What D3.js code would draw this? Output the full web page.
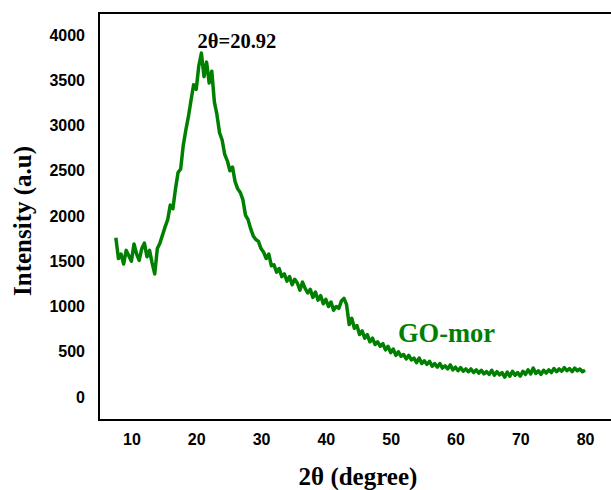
<!DOCTYPE html>
<html>
<head>
<meta charset="utf-8">
<script src="https://cdn.jsdelivr.net/npm/d3@7"></script>
<style>
  body { margin: 0; background: #fff; }
  .tick text { font-family: 'Liberation Sans', Arial, sans-serif; font-weight: bold; font-size: 16px; fill: #000; }
  .title { font-family: 'Liberation Serif', 'Times New Roman', serif; font-weight: bold; }
</style>
</head>
<body>
<div id="chart"></div>
<script>
const xTicks = [10, 20, 30, 40, 50, 60, 70, 80];
const yTicks = [0, 500, 1000, 1500, 2000, 2500, 3000, 3500, 4000];

// 2theta (degree)
const angles = [
  7.6, 8.0, 8.4, 8.8, 9.2, 9.6, 10.0, 10.4, 10.8, 11.2, 11.6, 12.0, 12.4, 12.8, 13.2, 13.6,
  14.0, 14.4, 14.8, 15.2, 15.6, 16.0, 16.4, 16.8, 17.2, 17.6, 18.0, 18.4, 18.8, 19.2, 19.6,
  20.0, 20.4, 20.8, 21.2, 21.6, 22.0, 22.4, 22.8, 23.2, 23.6, 24.0, 24.4, 24.8, 25.2, 25.6,
  26.0, 26.4, 26.8, 27.2, 27.6, 28.0, 28.4, 28.8, 29.2, 29.6, 30.0, 30.4, 30.8, 31.2, 31.6,
  32.0, 32.4, 32.8, 33.2, 33.6, 34.0, 34.4, 34.8, 35.2, 35.6, 36.0, 36.4, 36.8, 37.2, 37.6,
  38.0, 38.4, 38.8, 39.2, 39.6, 40.0, 40.4, 40.8, 41.2, 41.6, 42.0, 42.4, 42.8, 43.2, 43.6,
  44.0, 44.4, 44.8, 45.2, 45.6, 46.0, 46.4, 46.8, 47.2, 47.6, 48.0, 48.4, 48.8, 49.2, 49.6,
  50.0, 50.4, 50.8, 51.2, 51.6, 52.0, 52.4, 52.8, 53.2, 53.6, 54.0, 54.4, 54.8, 55.2, 55.6,
  56.0, 56.4, 56.8, 57.2, 57.6, 58.0, 58.4, 58.8, 59.2, 59.6, 60.0, 60.4, 60.8, 61.2, 61.6,
  62.0, 62.4, 62.8, 63.2, 63.6, 64.0, 64.4, 64.8, 65.2, 65.6, 66.0, 66.4, 66.8, 67.2, 67.6,
  68.0, 68.4, 68.8, 69.2, 69.6, 70.0, 70.4, 70.8, 71.2, 71.6, 72.0, 72.4, 72.8, 73.2, 73.6,
  74.0, 74.4, 74.8, 75.2, 75.6, 76.0, 76.4, 76.8, 77.2, 77.6, 78.0, 78.4, 78.8, 79.2, 79.6, 80.0
];

// intensity (a.u)
const intensity = [
  1760, 1530, 1580, 1470, 1620, 1560, 1500, 1690, 1580, 1510, 1640, 1700, 1550, 1620, 1480, 1360,
  1640, 1700, 1790, 1880, 1960, 2120, 2080, 2300, 2480, 2520, 2780, 2950, 3100, 3280, 3450,
  3400, 3660, 3800, 3540, 3700, 3470, 3600, 3260, 3120, 2920, 2840, 2680, 2610, 2500, 2540,
  2380, 2300, 2260, 2180, 2010, 1960, 1860, 1780, 1740, 1720, 1640, 1600, 1530, 1580, 1450,
  1460, 1380, 1420, 1330, 1360, 1280, 1330, 1240, 1300, 1260, 1180, 1270, 1200, 1150, 1190,
  1100, 1160, 1070, 1120, 1030, 1080, 1000, 1050, 960, 1000, 980, 1060, 1090, 1020, 800,
  870, 760, 790, 690, 730, 650, 690, 610, 650, 580, 610, 560, 590, 520, 560,
  490, 530, 460, 500, 450, 470, 420, 460, 410, 430, 380, 430, 370, 400, 360,
  395, 340, 370, 330, 370, 320, 345, 310, 355, 300, 330, 290, 325, 285, 310,
  280, 310, 270, 300, 265, 295, 255, 280, 250, 295, 240, 280, 245, 270, 220,
  275, 230, 285, 240, 270, 230, 285, 250, 300, 255, 320, 260, 290, 250, 295,
  265, 300, 270, 315, 280, 310, 285, 325, 290, 315, 280, 320, 290, 310, 280, 295
];

const data = angles.map((a, i) => ({ angle: a, value: intensity[i] }));

const width = 611;
const height = 490;
const frame = { left: 99, top: 13, right: 611, bottom: 420 };

const x = d3.scaleLinear().domain([5, 84]).range([frame.left, frame.right]);
const y = d3.scaleLinear().domain([-254, 4243]).range([frame.bottom, frame.top]);

const svg = d3.select('#chart').append('svg')
  .attr('width', width)
  .attr('height', height);

// tick labels only, no tick marks
svg.append('g')
  .attr('class', 'x axis')
  .attr('transform', `translate(0, ${frame.bottom})`)
  .call(d3.axisBottom(x).tickValues(xTicks).tickFormat(d3.format('d')).tickSize(0).tickPadding(14))
  .call(g => g.select('.domain').remove());

svg.append('g')
  .attr('class', 'y axis')
  .attr('transform', `translate(${frame.left}, 0)`)
  .call(d3.axisLeft(y).tickValues(yTicks).tickFormat(d3.format('d')).tickSize(0).tickPadding(14))
  .call(g => g.select('.domain').remove());

// frame: left, top, bottom
svg.append('path')
  .attr('d', `M${frame.right},${frame.top}H${frame.left}V${frame.bottom}H${frame.right}`)
  .attr('fill', 'none')
  .attr('stroke', '#000')
  .attr('stroke-width', 2);

const line = d3.line()
  .x(d => x(d.angle))
  .y(d => y(d.value));

svg.append('path')
  .datum(data)
  .attr('fill', 'none')
  .attr('stroke', '#008000')
  .attr('stroke-width', 3.5)
  .attr('stroke-linejoin', 'round')
  .attr('d', line);

svg.append('text')
  .attr('class', 'title')
  .attr('x', 358)
  .attr('y', 485)
  .attr('text-anchor', 'middle')
  .style('font-size', '25px')
  .text('2θ (degree)');

svg.append('text')
  .attr('class', 'title')
  .attr('transform', 'translate(31, 221) rotate(-90)')
  .attr('text-anchor', 'middle')
  .style('font-size', '25px')
  .text('Intensity (a.u)');

svg.append('text')
  .attr('class', 'title')
  .attr('x', 237)
  .attr('y', 48)
  .attr('text-anchor', 'middle')
  .style('font-size', '20.5px')
  .text('2θ=20.92');

svg.append('text')
  .attr('class', 'title')
  .attr('x', 398)
  .attr('y', 342)
  .attr('fill', '#008000')
  .style('font-size', '26.5px')
  .text('GO-mor');
</script>
</body>
</html>
